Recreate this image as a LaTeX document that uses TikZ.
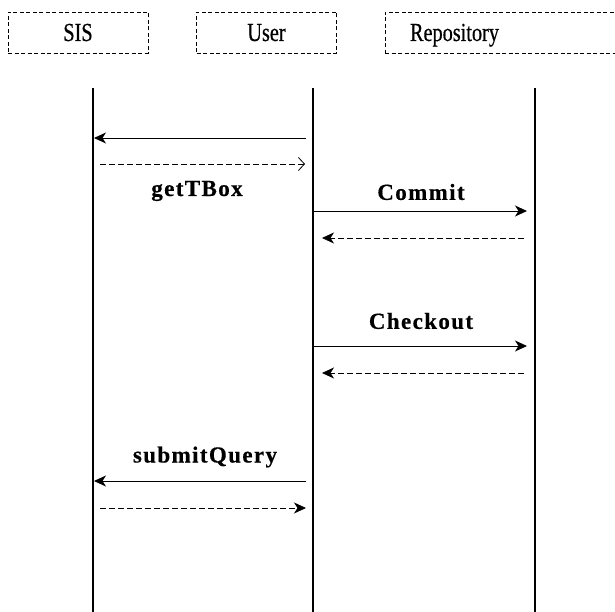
\documentclass[tikz,border=0pt]{standalone}
\usepackage{fontspec}
\setmainfont{Liberation Serif}
\usetikzlibrary{arrows.meta}

\tikzset{
  actor/.style={draw,dashed,dash pattern=on 4pt off 2.5pt,line width=0.8pt,
    minimum height=41pt,inner sep=0pt,text height=20pt,text depth=3pt,
    font=\fontsize{26}{28}\selectfont\addfontfeature{FakeBold=0.6}},
  lifeline/.style={line width=2.5pt},
  call/.style={line width=0.9pt,-{Stealth[length=12pt,width=11pt,inset=3.5pt]}},
  reply/.style={line width=0.8pt,dash pattern=on 6pt off 3pt,
    -{Stealth[length=12pt,width=11pt,inset=3.5pt]}},
  openreply/.style={line width=0.8pt,dash pattern=on 6pt off 3pt,
    -{Straight Barb[length=6pt,width=13pt,line width=0.8pt]}},
  msg/.style={font=\bfseries\fontsize{23}{26}\selectfont\addfontfeature{LetterSpace=6,FakeBold=0.5}}
}

\begin{document}
\begin{tikzpicture}[x=1pt,y=-1pt]
      \useasboundingbox (0,0) rectangle (615,612);

      %% actors
      \node[actor,minimum width=140pt] (sis) at (78,32.5) {\scalebox{0.78}[1]{SIS}};
      \node[actor,minimum width=140pt] (user) at (266.5,32.5) {\scalebox{0.78}[1]{User}};
      \node[actor,minimum width=240pt,text width=224pt,align=left] (repo) at (505,32.5)
        {\hspace{17pt}\scalebox{0.78}[1]{Repository}};

      %% lifelines
      \coordinate (sisT) at (93,88);   \coordinate (sisB) at (93,614);
      \coordinate (userT) at (313,88); \coordinate (userB) at (313,614);
      \coordinate (repoT) at (535,88); \coordinate (repoB) at (535,614);
      \draw[lifeline] (sisT) -- (sisB);
      \draw[lifeline] (userT) -- (userB);
      \draw[lifeline] (repoT) -- (repoB);

      %% getTBox
      \coordinate (m1a) at (306,138); \coordinate (m1b) at (94,138);
      \coordinate (m2a) at (100,164); \coordinate (m2b) at (305,164);
      \draw[call] (m1a) -- (m1b);
      \draw[openreply] (m2a) -- (m2b);
      \node[msg] (gettbox) at (197,191) {getTBox};

      %% Commit
      \coordinate (m3a) at (313,211); \coordinate (m3b) at (527,211);
      \coordinate (m4a) at (524,238); \coordinate (m4b) at (322,238);
      \draw[call] (m3a) -- (m3b);
      \draw[reply] (m4a) -- (m4b);
      \node[msg] (commit) at (421,192) {Commit};

      %% Checkout
      \coordinate (m5a) at (313,346); \coordinate (m5b) at (527,346);
      \coordinate (m6a) at (524,373); \coordinate (m6b) at (322,373);
      \draw[call] (m5a) -- (m5b);
      \draw[reply] (m6a) -- (m6b);
      \node[msg] (checkout) at (421,321) {Checkout};

      %% submitQuery
      \coordinate (m7a) at (306,481); \coordinate (m7b) at (94,481);
      \coordinate (m8a) at (100,508); \coordinate (m8b) at (306,508);
      \draw[call] (m7a) -- (m7b);
      \draw[reply] (m8a) -- (m8b);
      \node[msg] (submit) at (205,457) {submitQuery};

    \end{tikzpicture}
\end{document}
